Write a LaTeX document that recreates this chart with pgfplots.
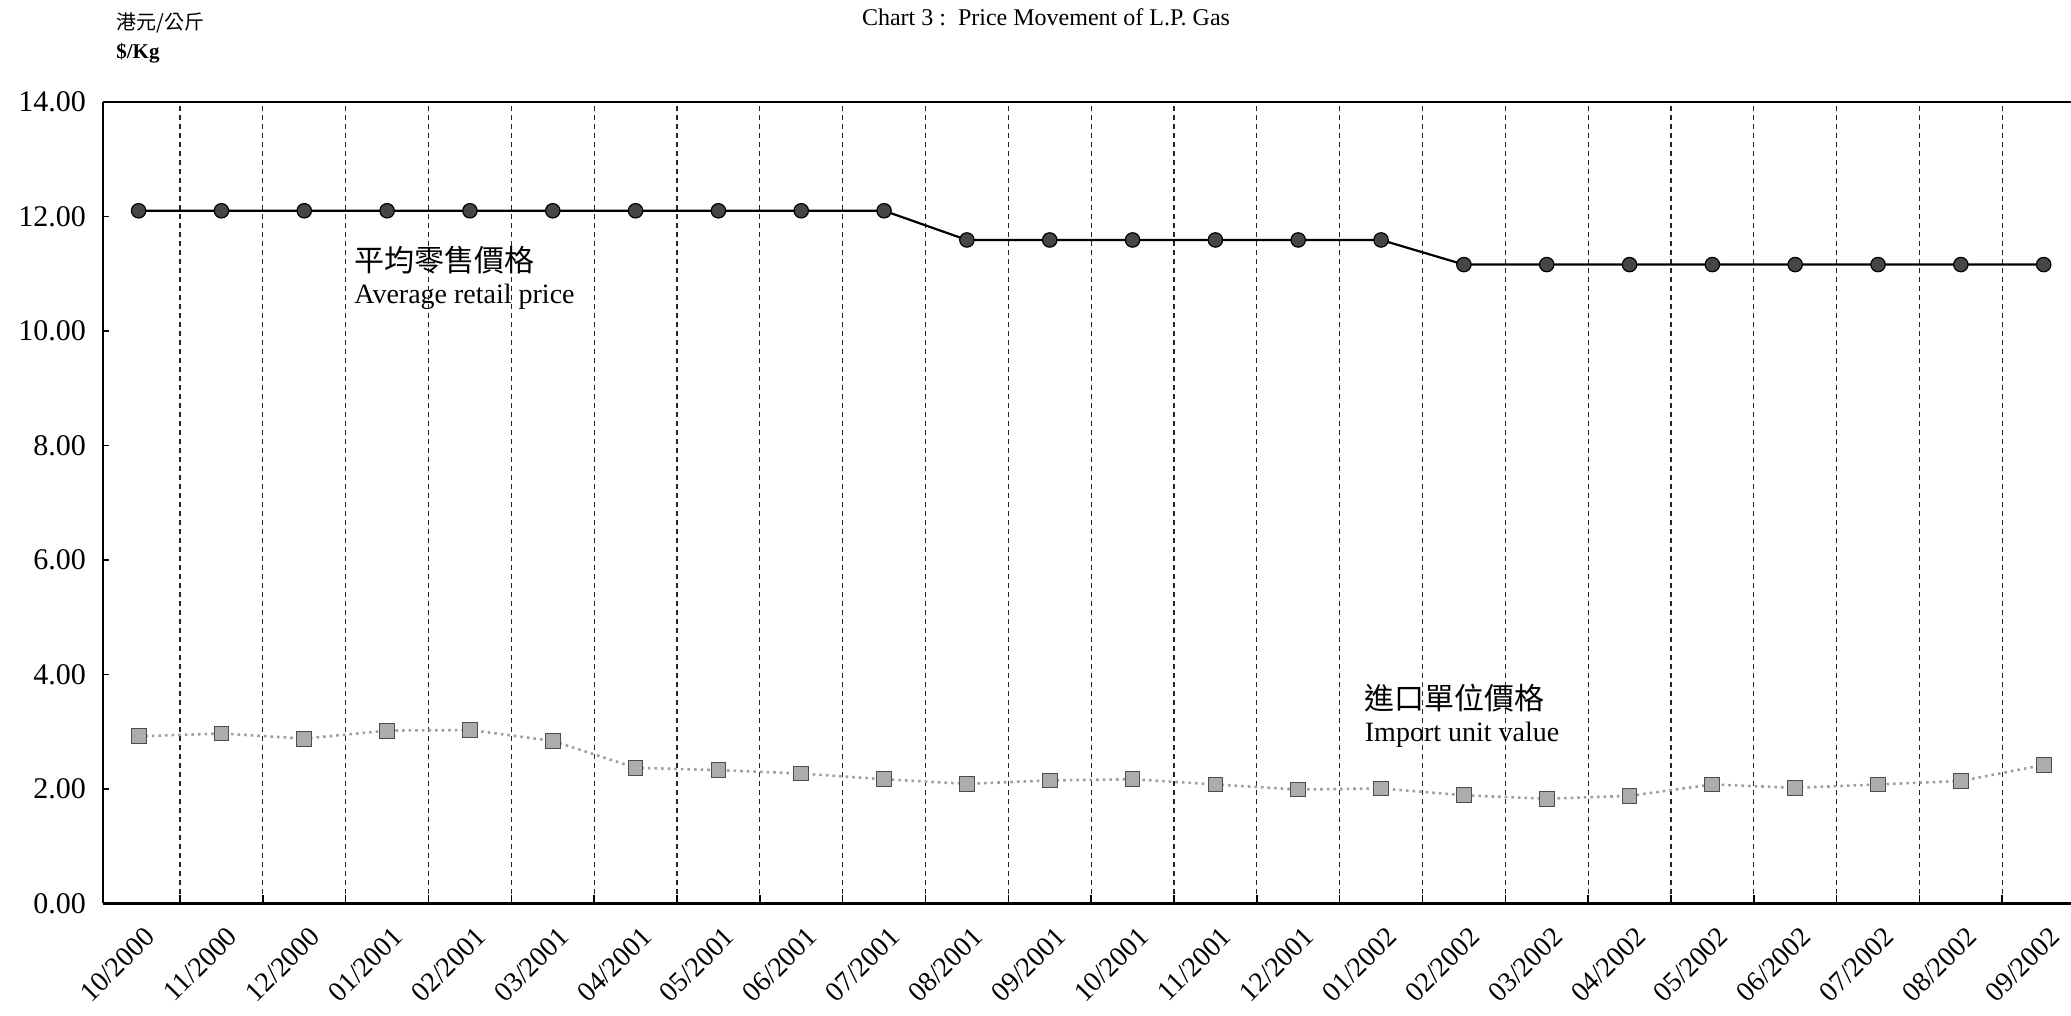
\documentclass[border=0pt]{standalone}
\usepackage{fontspec}
\setmainfont{Liberation Serif}
\newfontfamily\cjk{Noto Sans CJK TC}
\usepackage{pgfplots}
\usepackage{pgfplotstable}
\pgfplotsset{compat=1.18}
\pgfplotstableread{
x retail import
0  12.10 2.92
1  12.10 2.97
2  12.10 2.88
3  12.10 3.02
4  12.10 3.03
5  12.10 2.84
6  12.10 2.37
7  12.10 2.33
8  12.10 2.27
9  12.10 2.17
10 11.59 2.09
11 11.59 2.15
12 11.59 2.17
13 11.59 2.08
14 11.59 1.99
15 11.59 2.01
16 11.16 1.89
17 11.16 1.83
18 11.16 1.88
19 11.16 2.08
20 11.16 2.02
21 11.16 2.08
22 11.16 2.14
23 11.16 2.42
}\gasdata
\begin{document}
\begin{tikzpicture}
\useasboundingbox (0,0) rectangle (1035.5pt,508pt);
\node[font=\fontsize{12}{12}\selectfont] at (523pt,499.5pt) {Chart 3 :\ \ Price Movement of L.P. Gas};
\node[anchor=west,inner sep=0pt,font=\fontsize{10}{10}\selectfont\cjk] at (58pt,496.5pt) {港元/公斤};
\node[anchor=west,inner sep=0pt,font=\fontsize{10.5}{10.5}\selectfont\bfseries] at (58pt,481.5pt) {\$/Kg};
\begin{axis}[
  at={(51.5pt,56.25pt)}, anchor=south west,
  width=984pt, height=400.75pt, scale only axis,
  xmin=-0.43, xmax=23.33, ymin=0, ymax=14,
  axis x line*=bottom, axis y line*=left,
  axis line style={line width=1.3pt,-},
  xtick={0,...,23},
  xticklabels={10/2000,11/2000,12/2000,01/2001,02/2001,03/2001,04/2001,05/2001,06/2001,07/2001,08/2001,09/2001,10/2001,11/2001,12/2001,01/2002,02/2002,03/2002,04/2002,05/2002,06/2002,07/2002,08/2002,09/2002},
  major x tick style={draw=none},
  minor xtick={0.5,1.5,2.5,3.5,4.5,5.5,6.5,7.5,8.5,9.5,10.5,11.5,12.5,13.5,14.5,15.5,16.5,17.5,18.5,19.5,20.5,21.5,22.5},
  xminorgrids,
  minor x grid style={black!85, line width=0.55pt, dash pattern=on 2.5pt off 2pt},
  minor x tick style={black, line width=0.8pt},
  minor tick length=4pt,
  xticklabel style={rotate=45, anchor=north east, inner sep=0pt, yshift=-9pt, xshift=-6pt, font=\fontsize{14}{14}\selectfont},
  ytick={0,2,4,6,8,10,12,14},
  tick align=inside,
  major tick length=3pt,
  ytick style={black, line width=0.6pt},
  /pgf/number format/assume math mode=true,
  yticklabel style={/pgf/number format/fixed, /pgf/number format/fixed zerofill, /pgf/number format/precision=2, font=\fontsize{15}{15}\selectfont, xshift=-5pt},
  clip=false,
]
\draw[line width=1.3pt] (rel axis cs:0,1) -- (rel axis cs:1,1);
\addplot[gray!75, line width=1.3pt, dotted, mark=square*, mark size=3.7pt, mark options={solid, fill=gray!65, draw=gray!60!black, line width=0.5pt}] table[x=x, y=import] {\gasdata};
\addplot[black, line width=1.1pt, mark=*, mark size=3.6pt, mark options={fill=gray!55!black, draw=black, line width=0.6pt}] table[x=x, y=retail] {\gasdata};
\node[anchor=west, inner sep=0pt, font=\fontsize{15}{15}\selectfont\cjk] at (axis cs:2.6,11.23) {平均零售價格};
\node[anchor=west, inner sep=0pt, font=\fontsize{14}{14}\selectfont] at (axis cs:2.6,10.6) {Average retail price};
\node[anchor=west, inner sep=0pt, font=\fontsize{15}{15}\selectfont\cjk] at (axis cs:14.8,3.59) {進口單位價格};
\node[anchor=west, inner sep=0pt, font=\fontsize{14}{14}\selectfont] at (axis cs:14.8,2.94) {Import unit value};
\end{axis}
\end{tikzpicture}
\end{document}
